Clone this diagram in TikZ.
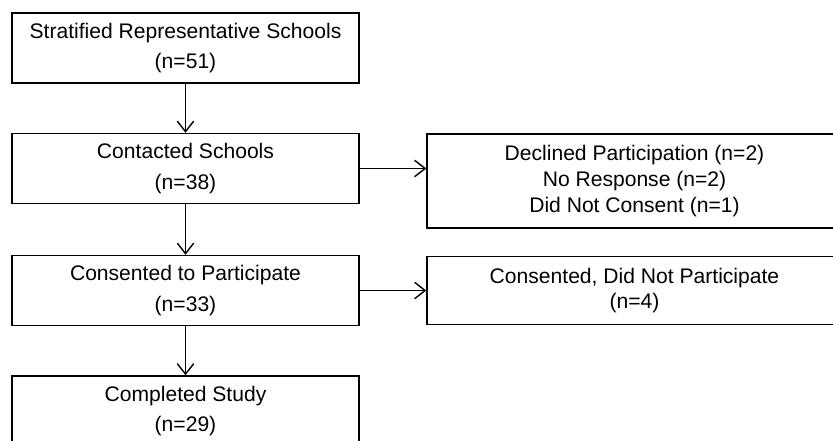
\documentclass[tikz,border=0pt]{standalone}
\usepackage{fontspec}
\setmainfont{Liberation Sans}
\usetikzlibrary{arrows.meta}

\begin{document}
\begin{tikzpicture}[x=0.03cm, y=-0.03cm, line width=1.2pt,
    stagebox/.style={draw, align=center, minimum width=10.41cm, minimum height=2.1cm,
      inner sep=0pt, font=\fontsize{18}{26}\selectfont},
    exitbox/.style={draw, align=center, minimum width=12.45cm,
      inner sep=0pt, font=\fontsize{18}{22}\selectfont},
    flow/.style={-{Straight Barb[length=9pt,width=14pt]}}]
      % page size
      \useasboundingbox (0,0) rectangle (833,440);
      \clip (0,0) rectangle (833,440);

      % main column
      \node[stagebox] (strat) at (185.5,48) {Stratified Representative Schools\\(n=51)};
      \node[stagebox] (contact) at (185.5,168.5) {Contacted Schools\\(n=38)};
      \node[stagebox] (consent) at (185.5,290.5) {Consented to Participate\\(n=33)};
      \node[stagebox] (done) at (185.5,411) {Completed Study\\(n=29)};

      % drop-outs
      \node[exitbox, minimum height=2.82cm] (lost) at (634.5,181)
        {Declined Participation (n=2)\\No Response (n=2)\\Did Not Consent (n=1)};
      \node[exitbox, minimum height=2.04cm] (noshow) at (634.5,290.5)
        {Consented, Did Not Participate\\(n=4)};

      % arrows
      \draw[flow] (strat) -- (contact);
      \draw[flow] (contact) -- (consent);
      \draw[flow] (consent) -- (done);
      \draw[flow] (contact.east) -- (lost.west |- contact.east);
      \draw[flow] (consent.east) -- (noshow.west |- consent.east);
    \end{tikzpicture}
\end{document}
